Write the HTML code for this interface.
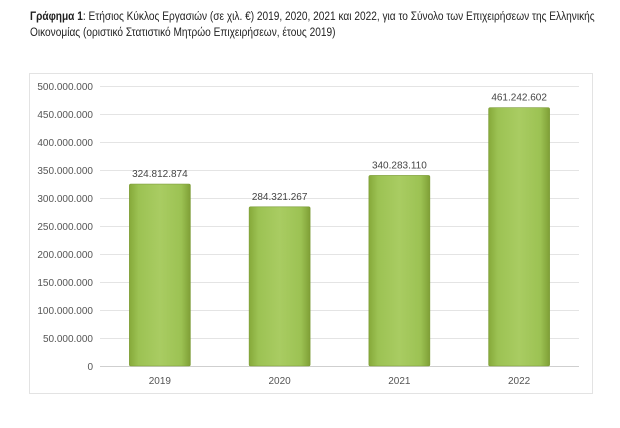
<!DOCTYPE html>
<html><head><meta charset="utf-8"><style>
body{margin:0;background:#fff;width:620px;height:428px;overflow:hidden;font-family:"Liberation Sans","DejaVu Sans",sans-serif}
.t{position:absolute;left:30px;top:9px;font-size:11.5px;line-height:16px;color:#222;width:660px;transform:scaleX(0.88);transform-origin:0 0}
</style></head><body>
<div class="t"><b>Γράφημα 1</b>: Ετήσιος Κύκλος Εργασιών (σε χιλ. €) 2019, 2020, 2021 και 2022, για το Σύνολο των Επιχειρήσεων της Ελληνικής<br>Οικονομίας (οριστικό Στατιστικό Μητρώο Επιχειρήσεων, έτους 2019)</div>
<svg id="c" width="620" height="428" style="position:absolute;left:0;top:0">
<defs><linearGradient id="g" x1="0" x2="1" y1="0" y2="0">
<stop offset="0" stop-color="#86a93a"/><stop offset="0.15" stop-color="#9cc253"/><stop offset="0.5" stop-color="#a9cc62"/><stop offset="0.85" stop-color="#9cc253"/><stop offset="1" stop-color="#7f9f36"/></linearGradient></defs>
<rect x="29.5" y="73.5" width="563" height="320" fill="#fff" stroke="#e3e3e3"/>
</svg>
<script>
const categories=["2019","2020","2021","2022"];
const values=[324812874,284321267,340283110,461242602];
const valueLabels=["324.812.874","284.321.267","340.283.110","461.242.602"];
const ticks=[0,50000000,100000000,150000000,200000000,250000000,300000000,350000000,400000000,450000000,500000000];
const tickLabels=["0","50.000.000","100.000.000","150.000.000","200.000.000","250.000.000","300.000.000","350.000.000","400.000.000","450.000.000","500.000.000"];
const svg=document.getElementById('c'),NS="http://www.w3.org/2000/svg";
const X0=100,X1=579,Y0=366,Y1=86,MAX=500000000;
const y=v=>Y0-(v/MAX)*(Y0-Y1);
const band=(X1-X0)/categories.length;
const xc=i=>X0+band*(i+0.5);
function mk(t,a){const e=document.createElementNS(NS,t);for(const k in a)e.setAttribute(k,a[k]);svg.appendChild(e);return e;}
ticks.forEach((v,i)=>{
const l=mk('line',{x1:X0,x2:X1,y1:y(v)+0.5,y2:y(v)+0.5,stroke:i?'#e4e4e4':'#cfcfcf'});


const t=mk('text',{x:93,y:y(v)+4,'text-anchor':'end','font-size':'10',fill:'#555'});
t.textContent=tickLabels[i];


});
categories.forEach((c,i)=>{
const w=61,x=xc(i)-w/2;
const r=mk('rect',{x:x,y:y(values[i]),width:w,height:Y0-y(values[i]),fill:'url(#g)',stroke:'#7a9a34','stroke-width':'0.6',rx:'1.5'});


const v=mk('text',{x:xc(i),y:y(values[i])-7,'text-anchor':'middle','font-size':'10',fill:'#444'});
v.textContent=valueLabels[i];


const t=mk('text',{x:xc(i),y:384,'text-anchor':'middle','font-size':'10',fill:'#555'});
t.textContent=c;


});
</script>
</body></html>
